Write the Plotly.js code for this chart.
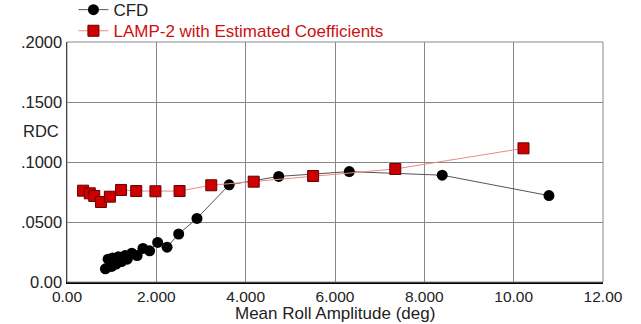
<!DOCTYPE html>
<html><head><meta charset="utf-8">
<script src="https://cdn.plot.ly/plotly-3.0.1.min.js"></script>
<style>body{margin:0;padding:0;background:#fff}#c{width:641px;height:324px}</style>
</head><body><div id="c"></div>
<script>
const cfdX = [0.86,0.92,1.00,1.02,1.10,1.15,1.22,1.30,1.35,1.45,1.57,1.70,1.85,2.03,2.24,2.50,2.91,3.63,4.74,6.32,8.40,10.79];
const cfdY = [0.011,0.019,0.013,0.020,0.015,0.021,0.017,0.022,0.019,0.024,0.022,0.028,0.026,0.033,0.029,0.040,0.053,0.081,0.088,0.092,0.089,0.072];
const lampX = [0.36,0.51,0.61,0.76,0.96,1.21,1.55,1.98,2.52,3.23,4.18,5.51,7.35,10.22];
const lampY = [0.0761,0.0739,0.0717,0.0667,0.0711,0.0767,0.0758,0.0756,0.0758,0.0806,0.0836,0.0883,0.0942,0.1114];
const xTicks = [0,2,4,6,8,10,12];
const xTickText = ["0.00","2.000","4.000","6.000","8.000","10.00","12.00"];
const yTicks = [0,0.05,0.1,0.15,0.2];
const yTickText = ["0.00",".0500",".1000",".1500",".2000"];

const traces = [
  {x: cfdX, y: cfdY, name: "CFD", mode: "lines+markers", type: "scatter", legend: "legend",
   line: {color: "#555", width: 1},
   marker: {symbol: "circle", size: 11, color: "#000"}},
  {x: lampX, y: lampY, name: '<span style="color:#cc1111">LAMP-2 with Estimated Coefficients</span>',
   mode: "lines+markers", type: "scatter", legend: "legend2",
   line: {color: "#e88", width: 1},
   marker: {symbol: "square", size: 11, color: "#cc0000", line: {color: "#600", width: 1}}}
];
const legendBase = {x: 0.012, xanchor: "left", yanchor: "top", bgcolor: "rgba(0,0,0,0)",
                    font: {size: 17, color: "#222"}, borderwidth: 0};
const layout = {
  width: 641, height: 324,
  margin: {l: 67, r: 38, t: 42, b: 42, autoexpand: false},
  paper_bgcolor: "#fff", plot_bgcolor: "#fff",
  font: {family: "Liberation Sans, Arial, sans-serif", size: 16, color: "#222"},
  showlegend: true,
  legend: Object.assign({}, legendBase, {y: 1.208}),
  legend2: Object.assign({}, legendBase, {y: 1.12}),
  xaxis: {range: [0, 12], tickvals: xTicks, ticktext: xTickText, showgrid: true,
          gridcolor: "#888", gridwidth: 1, showline: true, linecolor: "#000", linewidth: 1.5,
          zeroline: false, ticks: "", tickfont: {size: 15.5, color: "#222"}},
  yaxis: {range: [0, 0.2], tickvals: yTicks, ticktext: yTickText, showgrid: true,
          gridcolor: "#888", gridwidth: 1, showline: true, linecolor: "#000", linewidth: 1.5,
          zeroline: false, ticks: "", tickfont: {size: 16.5, color: "#222"}},
  annotations: [
    {text: "RDC", xref: "paper", yref: "paper", x: -0.012, y: 0.63,
     xanchor: "right", yanchor: "middle", showarrow: false, font: {size: 16.5, color: "#222"}},
    {text: "Mean Roll Amplitude (deg)", xref: "paper", yref: "paper", x: 0.5, y: -0.175,
     xanchor: "center", yanchor: "bottom", showarrow: false, borderpad: 0,
     font: {size: 17, color: "#222"}}
  ],
  shapes: [{type: "rect", xref: "paper", yref: "paper", x0: 0, x1: 1, y0: 0, y1: 1,
            line: {color: "#888", width: 1}}]
};
Plotly.newPlot("c", traces, layout, {displayModeBar: false, staticPlot: true});
</script></body></html>
